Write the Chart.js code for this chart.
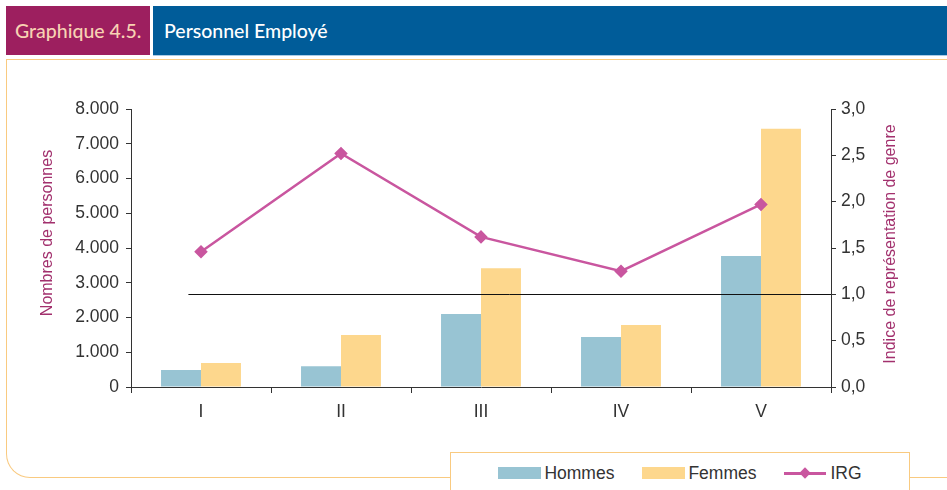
<!DOCTYPE html>
<html lang="fr">
<head>
<meta charset="utf-8">
<title>Personnel Employé</title>
<script src="https://cdn.jsdelivr.net/npm/chart.js@4/dist/chart.umd.min.js"></script>
<style>
  html, body { margin: 0; padding: 0; background: #fff; }
  body { width: 947px; height: 490px; position: relative; overflow: hidden; font-family: "Liberation Sans", Arial, sans-serif; }
  .tag, .band { position: absolute; top: 6px; height: 49px; }
  .tag { left: 6px; width: 144px; background: #9d1f5f; color: #f7d2b3; }
  .band { left: 153px; right: 0; background: #005c99; color: #fff; border-bottom: 1px solid #a9cbe6; }
  .head-text { font-family: Lato, "Open Sans", sans-serif; font-weight: 500; font-size: 19.5px; line-height: 49px; padding-left: 11px; white-space: nowrap; }
  .tag .head-text { padding-left: 9px; }
  .frame { position: absolute; left: 6px; top: 59px; width: 1000px; height: 417px; border: 1.5px solid #f9ca80; border-right: none; border-bottom-left-radius: 24px; }
  #chart { position: absolute; left: 0; top: 0; }
  #legend { position: absolute; left: 450px; top: 452px; width: 460px; height: 60px; border: 1px solid #f9ca80; background: #fff;
            display: flex; justify-content: center; align-items: flex-start; padding-top: 10px; box-sizing: border-box; gap: 28px; }
  .item { display: flex; align-items: center; font-size: 17.5px; color: #333; height: 20px; }
  .swatch { width: 43px; height: 12px; margin-right: 3px; }
  .lineswatch { position: relative; width: 42px; height: 3px; margin-right: 4px; }
  .lineswatch::after { content: ""; position: absolute; left: 17px; top: -3px; width: 8px; height: 8px; background: inherit; transform: rotate(45deg); }
</style>
</head>
<body>
<div class="tag"><div class="head-text">Graphique 4.5.</div></div>
<div class="band"><div class="head-text">Personnel Employé</div></div>
<div class="frame"></div>
<canvas id="chart" width="947" height="490"></canvas>
<div id="legend"></div>

<script>
// Catégories et séries
const categories = ['I', 'II', 'III', 'IV', 'V'];
const hommes = [490, 600, 2100, 1440, 3770];
const femmes = [690, 1500, 3420, 1785, 7430];
const irg = [1.46, 2.52, 1.62, 1.25, 1.97];

const seriesNames = ['Hommes', 'Femmes', 'IRG'];
const seriesColors = ['#98c4d3', '#fdd78d', '#c9569f'];

// Ligne de parité (IRG = 1)
const refLevel = 1.0;
const refStart = -0.09; // en unités de catégorie

const leftTitle = 'Nombres de personnes';
const rightTitle = 'Indice de représentation de genre';

const axisColor = '#333';
const titleColor = '#a2306d';

function formatThousands(v) {
    return String(v).replace(/\B(?=(\d{3})+(?!\d))/g, '.');
}

function formatDecimal(v) {
    return Number(v).toFixed(1).replace('.', ',');
}

// Ligne de référence + titres d'axes (lus de bas en haut des deux côtés)
const extras = {
    id: 'extras',
    afterDatasetsDraw(chart) {
        const { ctx, chartArea, scales: { x, y1 } } = chart;
        const yy = Math.round(y1.getPixelForValue(refLevel)) + 0.5;
        ctx.save();
        ctx.strokeStyle = '#111';
        ctx.lineWidth = 1;
        ctx.beginPath();
        ctx.moveTo(x.getPixelForValue(refStart), yy);
        ctx.lineTo(chartArea.right, yy);
        ctx.stroke();
        ctx.restore();
    },
    afterDraw(chart) {
        const { ctx, chartArea } = chart;
        const mid = (chartArea.top + chartArea.bottom) / 2;
        ctx.save();
        ctx.fillStyle = titleColor;
        ctx.font = '16px "Liberation Sans", Arial, sans-serif';
        ctx.textAlign = 'center';
        ctx.textBaseline = 'middle';

        ctx.save();
        ctx.translate(chartArea.left - 83, mid - 15);
        ctx.rotate(-Math.PI / 2);
        ctx.fillText(leftTitle, 0, 0);
        ctx.restore();

        ctx.save();
        ctx.translate(chartArea.right + 60, mid - 4);
        ctx.rotate(-Math.PI / 2);
        ctx.fillText(rightTitle, 0, 0);
        ctx.restore();

        ctx.restore();
    }
};

const tickFont = { family: '"Liberation Sans", Arial, sans-serif', size: 17.5 };

const chart = new Chart(document.getElementById('chart'), {
    type: 'bar',
    data: {
        labels: categories,
        datasets: [
            {
                type: 'line', label: seriesNames[2], data: irg, yAxisID: 'y1', order: 0,
                borderColor: seriesColors[2], backgroundColor: seriesColors[2], borderWidth: 2.5,
                pointStyle: 'rectRot', pointRadius: 5, pointHoverRadius: 5, tension: 0
            },
            {
                label: seriesNames[0], data: hommes, yAxisID: 'y', order: 1,
                backgroundColor: seriesColors[0], barPercentage: 1, categoryPercentage: 0.571
            },
            {
                label: seriesNames[1], data: femmes, yAxisID: 'y', order: 1,
                backgroundColor: seriesColors[1], barPercentage: 1, categoryPercentage: 0.571
            }
        ]
    },
    options: {
        responsive: false,
        animation: false,
        devicePixelRatio: 1,
        layout: { padding: { top: 109, right: 0, bottom: 0, left: 0 } },
        plugins: { legend: { display: false }, tooltip: { enabled: false } },
        scales: {
            x: {
                grid: { offset: true, drawOnChartArea: false, tickLength: 6, color: axisColor },
                border: { color: axisColor, width: 1 },
                ticks: { color: axisColor, font: tickFont, padding: 9 },
                afterFit(scale) { scale.height = 103; }
            },
            y: {
                position: 'left', min: 0, max: 8000,
                grid: { drawOnChartArea: false, tickLength: 5, color: axisColor },
                border: { color: axisColor, width: 1 },
                ticks: { stepSize: 1000, color: axisColor, font: tickFont, padding: 7, callback: v => formatThousands(v) },
                afterFit(scale) { scale.width = 131; }
            },
            y1: {
                position: 'right', min: 0, max: 3,
                grid: { drawOnChartArea: false, tickLength: 5, color: axisColor },
                border: { color: axisColor, width: 1 },
                ticks: { stepSize: 0.5, color: axisColor, font: tickFont, padding: 5, callback: v => formatDecimal(v) },
                afterFit(scale) { scale.width = 116; }
            }
        }
    },
    plugins: [extras]
});

// Légende HTML en bas du cadre
const legend = document.getElementById('legend');
[1, 2, 0].forEach(i => {
    const ds = chart.data.datasets[i];
    const item = document.createElement('div');
    item.className = 'item';
    const mark = document.createElement('span');
    mark.className = ds.type === 'line' ? 'lineswatch' : 'swatch';
    mark.style.background = ds.backgroundColor;
    const label = document.createElement('span');
    label.textContent = ds.label;
    item.appendChild(mark);
    item.appendChild(label);
    legend.appendChild(item);
});
</script>
</body>
</html>
